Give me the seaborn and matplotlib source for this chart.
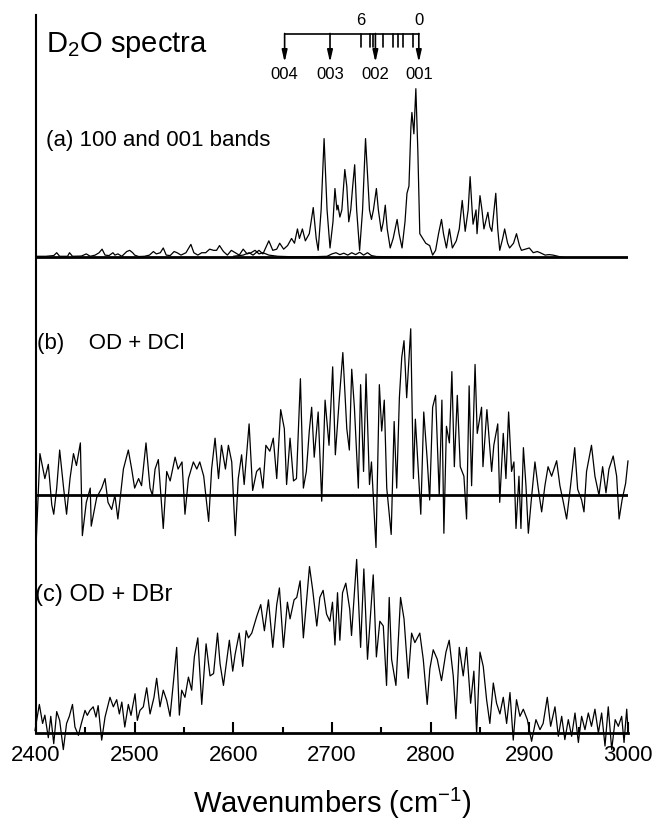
import matplotlib
matplotlib.use('Agg')
import matplotlib.pyplot as plt
from matplotlib.ticker import MultipleLocator
import numpy as np
import pandas as pd
import seaborn as sns

# (a) 001 band (strong trace), wavenumber / relative intensity
a001_wn = [2600, 2610, 2616, 2620, 2626, 2630, 2636, 2640, 2644, 2647, 2651, 2655,
           2659, 2662, 2665, 2667, 2670, 2673, 2677, 2681, 2684, 2686, 2689, 2692,
           2695, 2698, 2701, 2703, 2705, 2706, 2708, 2710, 2713, 2715, 2717, 2719,
           2721, 2723, 2725, 2728, 2731, 2734, 2736, 2738, 2740, 2742, 2745, 2747,
           2750, 2752, 2754, 2756, 2759, 2762, 2766, 2768, 2771, 2774, 2776, 2778,
           2780, 2781, 2783, 2785, 2787, 2789, 2792, 2795, 2799, 2802, 2805, 2808,
           2811, 2813, 2816, 2819, 2822, 2826, 2829, 2832, 2835, 2838, 2840, 2842,
           2843, 2846, 2847, 2850, 2852, 2854, 2858, 2860, 2862, 2866, 2868, 2870,
           2873, 2875, 2878, 2880, 2884, 2887, 2890, 2892, 2896, 2900, 2904, 2908,
           2911, 2916, 2920, 2924, 2930, 2935]
a001_int = [0.005, 0.01, 0.02, 0.01, 0.03, 0.015, 0.07, 0.03, 0.035, 0.06, 0.035, 0.05,
            0.08, 0.06, 0.12, 0.08, 0.12, 0.07, 0.10, 0.21, 0.08, 0.03, 0.20, 0.50,
            0.20, 0.04, 0.15, 0.29, 0.20, 0.22, 0.17, 0.20, 0.37, 0.30, 0.15, 0.20,
            0.30, 0.39, 0.20, 0.03, 0.20, 0.50, 0.35, 0.20, 0.16, 0.20, 0.29, 0.20,
            0.11, 0.15, 0.22, 0.12, 0.04, 0.08, 0.16, 0.10, 0.04, 0.15, 0.27, 0.30,
            0.55, 0.61, 0.52, 0.71, 0.45, 0.10, 0.08, 0.06, 0.05, 0.01, 0.03, 0.10,
            0.16, 0.10, 0.04, 0.12, 0.04, 0.07, 0.12, 0.24, 0.11, 0.20, 0.34, 0.20,
            0.14, 0.20, 0.10, 0.26, 0.20, 0.12, 0.19, 0.13, 0.11, 0.27, 0.12, 0.03,
            0.08, 0.12, 0.06, 0.04, 0.06, 0.10, 0.05, 0.03, 0.035, 0.04, 0.02, 0.025,
            0.02, 0.01, 0.012, 0.01, 0.004, 0.0]

# (a) 100 band (weak trace)
a100_wn = [2400, 2410, 2418, 2421, 2424, 2432, 2434, 2437, 2446, 2451, 2455, 2460,
           2464, 2467, 2470, 2474, 2478, 2480, 2483, 2487, 2492, 2495, 2498, 2500,
           2504, 2510, 2515, 2519, 2522, 2526, 2529, 2532, 2536, 2540, 2543, 2547,
           2552, 2557, 2560, 2564, 2568, 2572, 2576, 2580, 2583, 2586, 2590, 2594,
           2598, 2602, 2606, 2610, 2614, 2618, 2622, 2626, 2630, 2636, 2645, 2660,
           2680, 2695, 2700, 2704, 2708, 2712, 2716, 2720, 2724, 2728, 2732, 2736,
           2740, 2745, 2760, 2800, 2850, 2900]
a100_int = [0.005, 0.005, 0.008, 0.02, 0.005, 0.005, 0.02, 0.005, 0.006, 0.015, 0.005, 0.01,
            0.02, 0.035, 0.01, 0.008, 0.02, 0.01, 0.015, 0.005, 0.025, 0.03, 0.02, 0.01,
            0.004, 0.005, 0.01, 0.025, 0.015, 0.02, 0.04, 0.01, 0.008, 0.025, 0.02, 0.01,
            0.02, 0.055, 0.02, 0.01, 0.02, 0.02, 0.035, 0.03, 0.03, 0.05, 0.025, 0.01,
            0.03, 0.02, 0.01, 0.035, 0.015, 0.02, 0.03, 0.015, 0.02, 0.01, 0.005, 0.003,
            0.003, 0.005, 0.015, 0.02, 0.012, 0.018, 0.01, 0.02, 0.012, 0.022, 0.01, 0.02,
            0.008, 0.004, 0.003, 0.002, 0.002, 0.0]

# (b) OD + DCl
b_wn = [2400, 2404, 2409, 2412.5, 2416, 2418, 2421, 2424, 2428, 2431, 2434.5, 2438,
        2441, 2445, 2447, 2451, 2455, 2456, 2461.5, 2466.6, 2470, 2473, 2476.7, 2480,
        2483, 2488.6, 2493.6, 2497, 2500, 2504, 2507, 2511.5, 2515.6, 2518, 2520.7, 2524,
        2529, 2532.5, 2536, 2541, 2544, 2548, 2551, 2554.5, 2559.5, 2563, 2566, 2570,
        2575, 2578, 2581.5, 2585, 2588, 2592, 2595, 2598.4, 2602, 2605, 2608.4, 2611,
        2613.5, 2616, 2619.6, 2623.6, 2627, 2630, 2633, 2637, 2640.5, 2644, 2648, 2651.7,
        2654, 2657.5, 2661, 2664, 2668, 2671, 2674, 2677, 2679.4, 2682, 2686, 2689.6,
        2693, 2697, 2700.7, 2703.4, 2707.5, 2711, 2715, 2717.6, 2720, 2722.7, 2726.7, 2729,
        2732, 2734.5, 2738, 2740, 2744.6, 2748, 2750.4, 2753, 2755.5, 2760, 2763, 2765.6,
        2768.3, 2770.7, 2773, 2775.7, 2779.8, 2782.5, 2784.5, 2787.6, 2790, 2793, 2796.5, 2799,
        2802, 2805, 2808.7, 2811.4, 2813.4, 2816, 2819, 2821.5, 2824, 2827, 2830, 2833.7,
        2836.4, 2839, 2841.5, 2845, 2847.2, 2851.6, 2853, 2857, 2861.8, 2864, 2868, 2870,
        2873.6, 2876.3, 2879, 2882, 2884.4, 2886.5, 2889.5, 2891.5, 2894, 2896.6, 2899, 2902,
        2905.7, 2909, 2912.5, 2915.8, 2919, 2922.6, 2927.7, 2931, 2934.5, 2937.8, 2941.8, 2946,
        2949, 2953, 2955.4, 2958, 2963, 2966.5, 2970.6, 2974.3, 2977.7, 2980.7, 2985, 2988.5,
        2991, 2994, 2997.6, 3000]
b_int = [-0.22, 0.175, 0.07, 0.13, -0.04, -0.08, 0.03, 0.19, 0.03, -0.08, 0.07, 0.175,
         0.125, 0.22, -0.17, -0.03, 0.03, -0.13, -0.01, 0.03, 0.07, -0.03, -0.06, 0.0,
         -0.10, 0.11, 0.19, 0.11, 0.03, 0.07, 0.04, 0.22, 0.03, 0.0, 0.11, 0.15,
         -0.14, 0.10, 0.06, 0.16, 0.11, 0.14, -0.08, 0.07, 0.14, 0.11, 0.14, 0.08,
         -0.11, 0.11, 0.24, 0.07, 0.21, 0.11, 0.21, 0.14, -0.17, 0.07, 0.17, 0.045,
         0.17, 0.30, 0.02, 0.10, 0.115, 0.03, 0.21, 0.185, 0.24, 0.07, 0.36, 0.28,
         0.045, 0.24, 0.06, 0.07, 0.49, 0.03, 0.10, 0.27, 0.37, 0.16, 0.35, -0.025,
         0.40, 0.21, 0.54, 0.17, 0.41, 0.60, 0.28, 0.19, 0.53, 0.37, 0.03, 0.465,
         0.10, 0.51, 0.045, 0.14, -0.22, 0.465, 0.27, 0.40, 0.03, -0.165, 0.31, 0.03,
         0.41, 0.58, 0.65, 0.41, 0.70, 0.07, 0.32, 0.09, -0.08, 0.35, 0.15, -0.02,
         0.37, 0.42, 0.0, 0.40, -0.16, 0.29, 0.22, 0.52, 0.12, 0.42, 0.12, 0.08,
         -0.10, 0.46, 0.04, 0.55, 0.26, 0.37, 0.12, 0.36, 0.10, 0.21, 0.30, -0.03,
         0.26, 0.07, 0.35, 0.10, 0.14, -0.14, 0.08, -0.14, 0.20, 0.04, -0.16, -0.02,
         0.14, 0.03, -0.07, 0.04, 0.12, 0.08, 0.145, 0.04, -0.03, -0.10, 0.04, 0.20,
         0.025, -0.02, -0.07, 0.10, 0.21, 0.08, 0.0, 0.12, 0.01, 0.11, 0.165, 0.08,
         -0.10, -0.02, 0.05, 0.145]

# (c) OD + DBr
c_wn = [2399, 2403.4, 2406.7, 2409, 2412.5, 2415, 2418, 2421, 2424, 2427.7, 2431, 2433.8,
        2437, 2439.5, 2443, 2446, 2449.7, 2452, 2454.7, 2458, 2460.8, 2463, 2466.6, 2470,
        2475, 2478.4, 2481.8, 2484.5, 2487, 2490, 2493.6, 2496.3, 2500.4, 2502.7, 2505.4, 2508.8,
        2512.2, 2515.6, 2519.6, 2522.3, 2525.7, 2529, 2532.5, 2535.9, 2539.2, 2542.6, 2545.3, 2547.7,
        2551, 2554.5, 2557.8, 2560.5, 2564, 2568, 2572.4, 2576.4, 2580, 2584, 2586.6, 2590,
        2593.3, 2596, 2599.4, 2601.8, 2606, 2609.5, 2613, 2615.3, 2618.7, 2623.7, 2627.8, 2631.5,
        2635.6, 2640, 2644, 2646.7, 2650.8, 2654.8, 2657.5, 2661.6, 2664.3, 2667.7, 2671, 2677.2,
        2680.5, 2684.6, 2687.7, 2691, 2694.5, 2697.8, 2700.5, 2703, 2705.6, 2708, 2710.7, 2714,
        2718, 2719.8, 2725, 2729, 2732.3, 2736, 2741.8, 2745, 2748.5, 2752, 2755.3, 2758,
        2760.4, 2764.8, 2769.5, 2773, 2777.3, 2780.7, 2784, 2789, 2792.5, 2796.5, 2799.2, 2802.6,
        2806.7, 2811, 2815.5, 2818.8, 2822.9, 2825.6, 2829, 2833, 2836.4, 2840.5, 2843.8, 2846.6,
        2850, 2853.3, 2856.7, 2860, 2863.5, 2866.8, 2870.2, 2873.6, 2877, 2880.4, 2883.7, 2887,
        2890.5, 2893.9, 2898, 2902.3, 2906.7, 2910.8, 2914, 2918.2, 2921.6, 2926, 2929.4, 2932.8,
        2936, 2939.5, 2942.9, 2946.3, 2949.7, 2953, 2956.4, 2959.8, 2963, 2966.5, 2970, 2973.3,
        2976.7, 2980, 2983.5, 2987, 2990.2, 2993.6, 2996, 2998.7, 3000]
c_int = [0.01, 0.12, 0.04, 0.075, -0.02, 0.07, -0.045, 0.09, 0.053, -0.07, 0.04, 0.07,
         0.12, 0.025, -0.01, 0.04, 0.095, 0.074, 0.095, 0.11, 0.067, 0.115, -0.03, 0.067,
         0.15, 0.11, 0.14, 0.08, 0.13, 0.025, 0.12, 0.074, 0.165, 0.053, 0.095, 0.11,
         0.19, 0.08, 0.15, 0.23, 0.11, 0.18, 0.137, 0.07, 0.21, 0.36, 0.075, 0.18,
         0.15, 0.235, 0.18, 0.32, 0.40, 0.12, 0.375, 0.24, 0.25, 0.42, 0.29, 0.20,
         0.305, 0.39, 0.26, 0.33, 0.42, 0.28, 0.43, 0.40, 0.42, 0.49, 0.54, 0.43,
         0.56, 0.36, 0.54, 0.61, 0.36, 0.55, 0.48, 0.56, 0.57, 0.64, 0.40, 0.70,
         0.60, 0.45, 0.57, 0.60, 0.50, 0.47, 0.55, 0.37, 0.59, 0.39, 0.59, 0.63,
         0.52, 0.41, 0.73, 0.36, 0.69, 0.31, 0.665, 0.32, 0.47, 0.45, 0.20, 0.57,
         0.31, 0.20, 0.57, 0.48, 0.23, 0.42, 0.38, 0.42, 0.31, 0.12, 0.27, 0.35,
         0.31, 0.22, 0.34, 0.39, 0.24, 0.06, 0.36, 0.24, 0.36, 0.125, 0.26, 0.0,
         0.34, 0.28, 0.14, 0.04, 0.21, 0.125, 0.08, 0.15, 0.04, 0.17, -0.03, 0.14,
         0.07, 0.10, 0.056, -0.035, 0.056, 0.014, 0.04, 0.15, 0.028, 0.11, -0.014, 0.07,
         -0.028, 0.056, -0.014, 0.084, -0.04, 0.07, 0.014, 0.084, 0.028, 0.10, 0.0, 0.084,
         -0.055, 0.11, -0.07, 0.056, 0.028, 0.07, -0.04, 0.10, 0.014]

# assignment bar above panel (a)
arrow_wn = [2652, 2698, 2744, 2788]
arrow_labels = ['004', '003', '002', '001']
bar_ticks_wn = [2729, 2739, 2742, 2752, 2762, 2767, 2772, 2782]

sns.set_style('ticks')
plt.rcParams['font.family'] = ['Liberation Sans', 'DejaVu Sans']
plt.rcParams['mathtext.fontset'] = 'custom'
plt.rcParams['mathtext.rm'] = 'Liberation Sans'
plt.rcParams['mathtext.it'] = 'Liberation Sans:italic'
plt.rcParams['mathtext.default'] = 'regular'
plt.rcParams['axes.unicode_minus'] = False
plt.rcParams['text.color'] = 'black'
plt.rcParams['axes.labelcolor'] = 'black'
plt.rcParams['xtick.color'] = 'black'
plt.rcParams['axes.edgecolor'] = 'black'

fig = plt.figure(figsize=(6.53, 8.23), dpi=100)
ax = fig.add_axes([0.0551, 0.1094, 0.9066, 0.8724])

traces = [(a100_wn, a100_int, 2.0), (a001_wn, a001_int, 2.0),
          (b_wn, b_int, 1.0), (c_wn, c_int, 0.0)]
for wn, inten, off in traces:
    df = pd.DataFrame({'wn': wn, 'y': np.asarray(inten) + off})
    sns.lineplot(data=df, x='wn', y='y', color='black', lw=0.9,
                 estimator=None, sort=False, ax=ax, clip_on=False)

ax.axhline(2.0, color='black', lw=2)
ax.axhline(1.0, color='black', lw=2)

# bar diagram
bar_y = 2.942
ax.plot([arrow_wn[0], arrow_wn[-1]], [bar_y, bar_y], color='black', lw=1.2)
for wn, lab in zip(arrow_wn, arrow_labels):
    ax.annotate('', xy=(wn, 2.821), xytext=(wn, bar_y),
                arrowprops=dict(arrowstyle='-|>,head_width=0.16,head_length=0.7',
                                color='black', lw=1.2, shrinkA=0, shrinkB=0))
    ax.text(wn, 2.769, lab, ha='center', va='center', fontsize=12)
for wn in bar_ticks_wn:
    ax.plot([wn, wn], [bar_y, 2.884], color='black', lw=1.2)
ax.text(2729, 2.996, '6', ha='center', va='center', fontsize=12)
ax.text(2788, 2.996, '0', ha='center', va='center', fontsize=12)

ax.text(2410, 2.866, 'D$_2$O spectra', ha='left', va='baseline', fontsize=21)
ax.text(2410, 2.492, '(a) 100 and 001 bands', ha='left', va='center', fontsize=16)
ax.text(2401, 1.64, '(b)    OD + DCl', ha='left', va='center', fontsize=16)
ax.text(2399.5, 0.58, '(c) OD + DBr', ha='left', va='center', fontsize=17)

ax.set_xlim(2400, 3000)
ax.set_ylim(0, 3.02)
ax.set_yticks([])
ax.set_ylabel('')
ax.xaxis.set_major_locator(MultipleLocator(100))
ax.xaxis.set_minor_locator(MultipleLocator(50))
ax.tick_params(axis='x', which='major', direction='in', length=8, width=1.5,
               labelsize=16, pad=9)
ax.tick_params(axis='x', which='minor', direction='in', length=4, width=1.5)
ax.set_xlabel('Wavenumbers (cm$^{-1}$)', fontsize=21, labelpad=14)
sns.despine(ax=ax)
ax.spines['left'].set_linewidth(1.5)
ax.spines['bottom'].set_linewidth(2)

fig.savefig('out.png', dpi=100)
